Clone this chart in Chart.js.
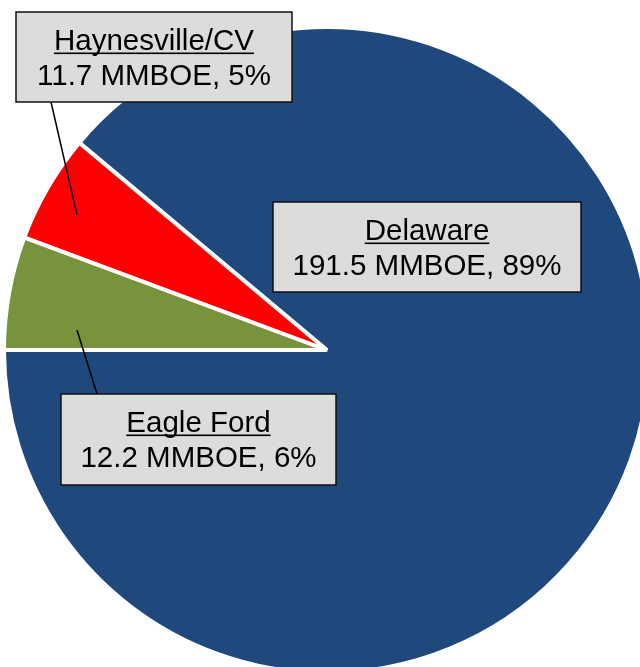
<!DOCTYPE html>
<html>
<head>
<meta charset="utf-8">
<script src="https://cdn.jsdelivr.net/npm/chart.js@4.4.1/dist/chart.umd.min.js"></script>
<style>
    html, body { margin: 0; padding: 0; background: #fff; overflow: hidden; width: 640px; height: 667px; }
    #wrap { position: relative; width: 654px; height: 700px; }
</style>
</head>
<body>
<div id="wrap"><canvas id="pieChart"></canvas></div>
<script>
// Data (clockwise from 9 o'clock)
const regions = ["Eagle Ford", "Haynesville/CV", "Delaware"];
const reserves = [12.2, 11.7, 191.5];
const shares = ["6%", "5%", "89%"];
const colors = ["#77933C", "#FF0000", "#1F497D"];

// Label boxes: x, y, width, height; anchor is end of leader line (offset from pie centre)
const labelBoxes = [
    { x: 61, y: 394, w: 275, h: 91, line: [97, 394], anchor: [-250, -20] },
    { x: 16, y: 12, w: 276, h: 90, line: [51, 102], anchor: [-250, -135] },
    { x: 273, y: 202, w: 308, h: 90, line: null, anchor: null },
];

const labelPlugin = {
    id: "labelBoxes",
    afterDraw(chart) {
        const ctx = chart.ctx;
        const arc = chart.getDatasetMeta(0).data[0];
        const cx = arc.x, cy = arc.y;
        ctx.save();
        labelBoxes.forEach((b, i) => {
            // leader line
            if (b.line) {
                ctx.beginPath();
                ctx.strokeStyle = "#000";
                ctx.lineWidth = 1.5;
                ctx.moveTo(b.line[0], b.line[1]);
                ctx.lineTo(cx + b.anchor[0], cy + b.anchor[1]);
                ctx.stroke();
            }
            // box
            ctx.fillStyle = "#DCDCDC";
            ctx.fillRect(b.x, b.y, b.w, b.h);
            ctx.strokeStyle = "#111";
            ctx.lineWidth = 1.5;
            ctx.strokeRect(b.x, b.y, b.w, b.h);

            // text
            const mid = b.x + b.w / 2;
            ctx.fillStyle = "#000";
            ctx.font = '29.5px "Liberation Sans", Arial, sans-serif';
            ctx.textAlign = "center";
            ctx.textBaseline = "alphabetic";
            const title = regions[i];
            ctx.fillText(title, mid, b.y + 38);
            const tw = ctx.measureText(title).width;
            ctx.fillRect(mid - tw / 2, b.y + 40.5, tw, 1.6);
            ctx.fillText(reserves[i].toFixed(1) + " MMBOE, " + shares[i], mid, b.y + 73);
        });
        ctx.restore();
    },
};

const ctx = document.getElementById("pieChart").getContext("2d");
new Chart(ctx, {
    type: "pie",
    data: {
        labels: regions,
        datasets: [
            {
                data: reserves,
                backgroundColor: colors,
                borderColor: "#FFFFFF",
                borderWidth: 4,
            },
        ],
    },
    options: {
        responsive: true,
        maintainAspectRatio: false,
        animation: false,
        rotation: -90,
        radius: 323,
        layout: { padding: 0 },
        plugins: {
            legend: { display: false },
            tooltip: { enabled: false },
        },
    },
    plugins: [labelPlugin],
});
</script>
</body>
</html>
